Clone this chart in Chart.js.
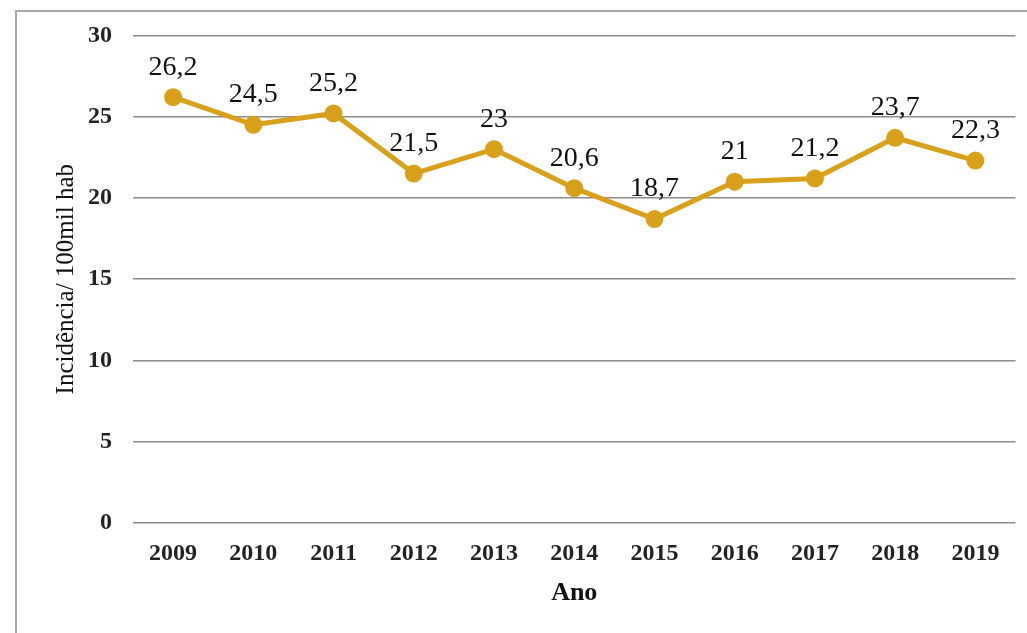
<!DOCTYPE html>
<html>
<head>
<meta charset="utf-8">
<script src="https://cdn.jsdelivr.net/npm/chart.js@4"></script>
<style>
  html, body { margin: 0; padding: 0; background: #fff; }
  #wrap { width: 1027px; height: 633px; }
</style>
</head>
<body>
<div id="wrap"><canvas id="chart" width="1027" height="633"></canvas></div>
<script>
// Data
const years = ['2009', '2010', '2011', '2012', '2013', '2014', '2015', '2016', '2017', '2018', '2019'];
const incidence = [26.2, 24.5, 25.2, 21.5, 23, 20.6, 18.7, 21, 21.2, 23.7, 22.3];
const yTicks = [0, 5, 10, 15, 20, 25, 30];

const lineColor = '#D9A11A';
const serif = '"Liberation Serif", "DejaVu Serif", serif';

// outer frame around the chart
const framePlugin = {
    id: 'frame',
    beforeDraw(chart) {
        const ctx = chart.ctx;
        ctx.save();
        ctx.fillStyle = '#fff';
        ctx.fillRect(0, 0, chart.width, chart.height);
        ctx.strokeStyle = '#a8a8a8';
        ctx.lineWidth = 2;
        ctx.strokeRect(16, 11, chart.width + 20, chart.height + 20);
        ctx.restore();
    }
};

// value labels above each point, with comma decimals
const valueLabels = {
    id: 'valueLabels',
    afterDatasetsDraw(chart) {
        const ctx = chart.ctx;
        const meta = chart.getDatasetMeta(0);
        ctx.save();
        ctx.font = '28px ' + serif;
        ctx.fillStyle = '#111';
        ctx.textAlign = 'center';
        ctx.textBaseline = 'middle';
        meta.data.forEach((pt, i) => {
            const txt = String(incidence[i]).replace('.', ',');
            ctx.fillText(txt, pt.x, pt.y - 30);
        });
        ctx.restore();
    }
};

new Chart(document.getElementById('chart'), {
    type: 'line',
    data: {
        labels: years,
        datasets: [{
            data: incidence,
            borderColor: lineColor,
            backgroundColor: lineColor,
            borderWidth: 5,
            pointRadius: 6.5,
            pointHoverRadius: 6.5,
            tension: 0
        }]
    },
    options: {
        responsive: false,
        animation: false,
        layout: { padding: { left: 43, right: 9, top: 35, bottom: 20 } },
        plugins: {
            legend: { display: false },
            tooltip: { enabled: false }
        },
        scales: {
            x: {
                offset: true,
                grid: { display: false },
                border: { display: false },
                ticks: {
                    color: '#222',
                    padding: 8,
                    maxRotation: 0,
                    font: { family: serif, size: 24, weight: 'bold' }
                },
                title: {
                    display: true,
                    text: 'Ano',
                    color: '#111',
                    padding: { top: 10, bottom: 4 },
                    font: { family: serif, size: 26, weight: 'bold' }
                },
                afterFit(scale) { scale.height = 633 - 523 - 20; }
            },
            y: {
                min: 0,
                max: 30,
                afterBuildTicks(scale) { scale.ticks = yTicks.map(v => ({ value: v })); },
                grid: { color: '#8c8c8c', lineWidth: 1.5, drawTicks: false },
                border: { display: false },
                ticks: {
                    color: '#222',
                    padding: 21,
                    font: { family: serif, size: 24, weight: 'bold' }
                },
                title: {
                    display: true,
                    text: 'Incidência/ 100mil hab',
                    color: '#111',
                    padding: { top: 8, bottom: 0 },
                    font: { family: serif, size: 25 }
                },
                afterFit(scale) { scale.width = 133 - 43; }
            }
        }
    },
    plugins: [framePlugin, valueLabels]
});
</script>
</body>
</html>
